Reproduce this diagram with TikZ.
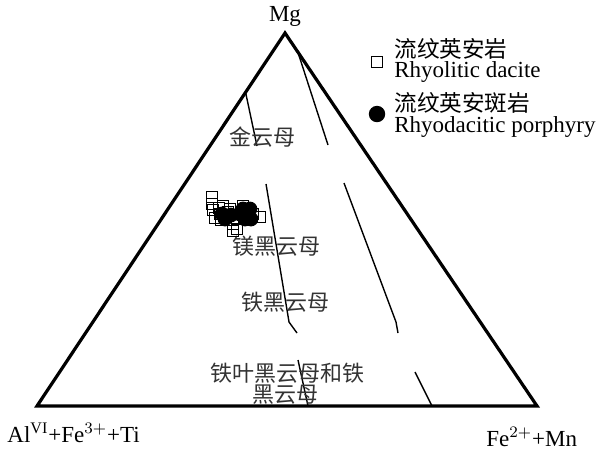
\documentclass[tikz,border=0pt]{standalone}
\usepackage{fontspec}
\setmainfont{Liberation Serif}
\newfontfamily\cjk{Noto Sans CJK SC}
\usetikzlibrary{positioning,calc}
\tikzset{frame/.style={line width=1.6pt, line join=miter}, % outer triangle
        field/.style={line width=0.7pt}, % field boundaries
        zone/.style={font=\cjk\fontsize{11}{13}\selectfont, text=black!80, inner sep=0pt},
        corner/.style={font=\fontsize{11.5}{13}\selectfont, inner sep=0pt},
        legtext/.style={font=\fontsize{11.5}{13}\selectfont, anchor=west, inner sep=0pt},
        dacite/.style={draw, line width=0.6pt, minimum size=5.6pt, inner sep=0pt},
        porphyry/.style={circle, fill=black, minimum size=7.4pt, inner sep=0pt}
        }

\begin{document}
\begin{tikzpicture}[x=0.5pt, y=-0.5pt]
    \useasboundingbox (0,0) rectangle (599,451);
    % triangle
    \coordinate (mg) at (285,33);
    \coordinate (al) at (37,406);
    \coordinate (fe) at (537,406);
    \draw[frame] (mg) -- (al) -- (fe) -- cycle;
    \node[corner] (mglab) at (285,16) {Mg};
    \node[corner, anchor=west] (allab) at (7,433) {Al$^{\mathrm{VI}}$+Fe$^{3+}$+Ti};
    \node[corner, anchor=west] (felab) at (486,437) {Fe$^{2+}$+Mn};

    % field boundaries
    \coordinate (b1) at ($(mg)!0.159!(al)$);
    \coordinate (b2) at ($(mg)!0.051!(fe)$);
    \draw[field] (b1) -- (257,146);
    \draw[field] (b2) -- (328,145);
    \draw[field] (266,184) -- (289,322) -- (297,333);
    \draw[field] (344,183) -- (396,322) -- (398,333);
    \draw[field] (298,360) -- (308,406);
    \draw[field] (415,372) -- (432,406);

    % field names
    \node[zone] (phl) at (262,137) {金云母};
    \node[zone] (mgb) at (276,246) {镁黑云母};
    \node[zone] (feb) at (285,302) {铁黑云母};
    \node[zone] (sid) at (287,373) {铁叶黑云母和铁};
    \node[zone] (sid2) at (285,395) {黑云母};

    % samples
    \foreach \p [count=\i] in {(212,197),(212,204),(213,210),(219,208),(223,206),(220,214),
        (215,218),(228,212),(221,220),(233,224),(237,229),(233,231),(260,217),(243,206),
        (230,209),(253,214),(237,219)}
        \node[dacite] (d\i) at \p {};
    \foreach \p [count=\i] in {(225,219),(231,215),(243,209),(250,209),(245,219),(251,219),
        (240,214),(222,214)}
        \node[porphyry] (r\i) at \p {};

    % legend
    \node[dacite, minimum size=5.5pt] (k1) at (377,62) {};
    \node[legtext, font=\cjk\fontsize{11.3}{13}\selectfont] (k1a) at (394,49) {流纹英安岩};
    \node[legtext] (k1b) at (394,72) {Rhyolitic dacite};
    \node[porphyry, minimum size=8.2pt] (k2) at (377,114) {};
    \node[legtext, font=\cjk\fontsize{11.3}{13}\selectfont] (k2a) at (394,103) {流纹英安斑岩};
    \node[legtext] (k2b) at (394,127) {Rhyodacitic porphyry};
\end{tikzpicture}
\end{document}
